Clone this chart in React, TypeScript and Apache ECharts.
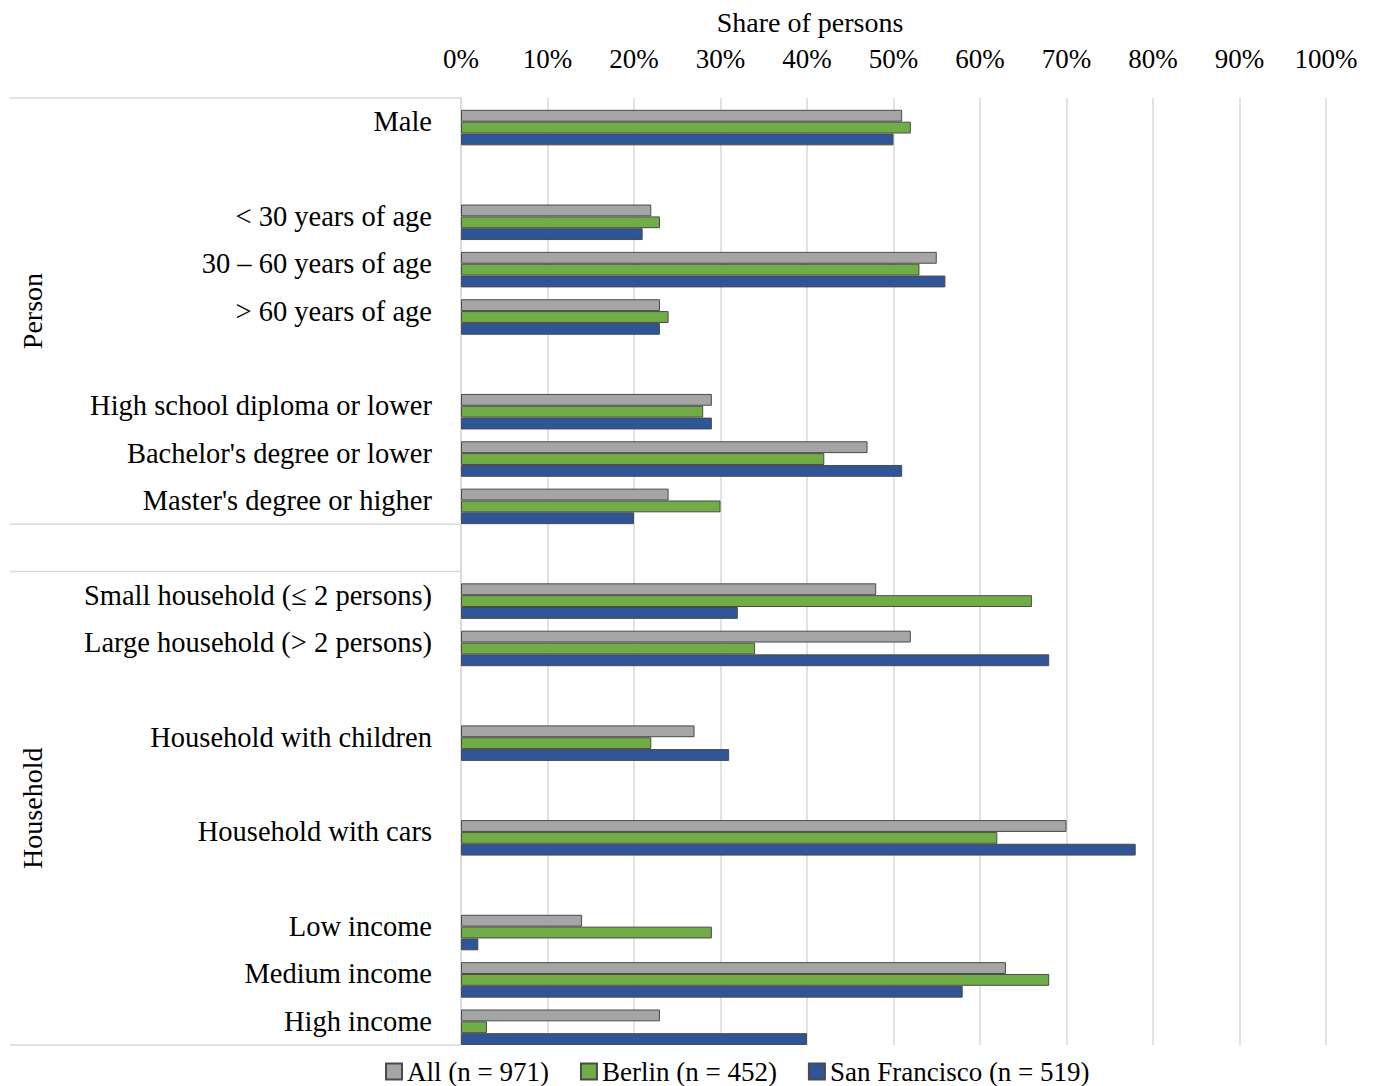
import React, { useEffect, useRef } from "react";
import * as echarts from "echarts";

// ---------- data ----------
const categories: string[] = [
  "Male",
  "",
  "< 30 years of age",
  "30 – 60 years of age",
  "> 60 years of age",
  "",
  "High school diploma or lower",
  "Bachelor's degree or lower",
  "Master's degree or higher",
  "",
  "Small household (≤ 2 persons)",
  "Large household (> 2 persons)",
  "",
  "Household with children",
  "",
  "Household with cars",
  "",
  "Low income",
  "Medium income",
  "High income",
];
const allValues = [51, null, 22, 55, 23, null, 29, 47, 24, null, 48, 52, null, 27, null, 70, null, 14, 63, 23];
const berlinValues = [52, null, 23, 53, 24, null, 28, 42, 30, null, 66, 34, null, 22, null, 62, null, 29, 68, 3];
const sfValues = [50, null, 21, 56, 23, null, 29, 51, 20, null, 32, 68, null, 31, null, 78, null, 2, 58, 40];
const seriesNames = ["All (n = 971)", "Berlin (n = 452)", "San Francisco (n = 519)"];
const seriesColors = ["#A5A5A5", "#70AD47", "#2F5597"];
const groups = [
  { name: "Person", first: 0, last: 8 },
  { name: "Household", first: 10, last: 19 },
];
const axisTitle = "Share of persons";
const xMin = 0;
const xMax = 100;
const xInterval = 10;

// ---------- layout ----------
const W = 1374;
const H = 1086;
const FONT = "'Liberation Serif', 'Times New Roman', serif";
const G = { left: 461, right: 48, top: 98, bottom: 41 };
const LINE = "#D9D9D9";

export default function App() {
  const ref = useRef<HTMLDivElement>(null);

  useEffect(() => {
    if (!ref.current) return;
    const chart = echarts.init(ref.current, undefined, { renderer: "svg" });
    const plotH = H - G.top - G.bottom;
    const band = plotH / categories.length;
    const shift = band / 8;

    const valuesList = [allValues, berlinValues, sfValues];

    const graphics: any[] = [];
    groups.forEach((g) => {
      const y0 = G.top + g.first * band;
      const y1 = G.top + (g.last + 1) * band;
      graphics.push({
        type: "line",
        shape: { x1: 10, y1: y0, x2: G.left, y2: y0 },
        style: { stroke: LINE, lineWidth: 1.5 },
        silent: true,
      });
      graphics.push({
        type: "line",
        shape: { x1: 10, y1: y1, x2: G.left, y2: y1 },
        style: { stroke: LINE, lineWidth: 1.5 },
        silent: true,
      });
      graphics.push({
        type: "text",
        x: 32,
        y: (y0 + y1) / 2,
        rotation: Math.PI / 2,
        style: {
          text: g.name,
          font: `28px ${FONT}`,
          fill: "#000",
          align: "center",
          verticalAlign: "middle",
        },
        silent: true,
      });
    });
    graphics.push({
      type: "text",
      x: 810,
      y: 22,
      style: {
        text: axisTitle,
        font: `28px ${FONT}`,
        fill: "#000",
        align: "center",
        verticalAlign: "middle",
      },
      silent: true,
    });

    chart.setOption({
      animation: false,
      grid: [
        { left: G.left, right: G.right, top: G.top, bottom: G.bottom },
        { left: G.left, right: G.right, top: G.top + shift, bottom: G.bottom - shift },
      ],
      xAxis: [
        {
          type: "value",
          gridIndex: 0,
          position: "top",
          min: xMin,
          max: xMax,
          interval: xInterval,
          axisLine: { show: false },
          axisTick: { show: false },
          axisLabel: {
            formatter: "{value}%",
            fontFamily: FONT,
            fontSize: 27,
            color: "#000",
            margin: 26,
          },
          splitLine: { show: true, lineStyle: { color: LINE, width: 1.5 } },
        },
        {
          type: "value",
          gridIndex: 1,
          min: xMin,
          max: xMax,
          show: false,
          splitLine: { show: false },
        },
      ],
      yAxis: [
        {
          type: "category",
          gridIndex: 0,
          data: categories,
          inverse: true,
          axisLine: { show: true, lineStyle: { color: LINE, width: 1.5 } },
          axisTick: { show: false },
          axisLabel: {
            fontFamily: FONT,
            fontSize: 28.5,
            color: "#000",
            margin: 29,
            interval: 0,
          },
          splitLine: { show: false },
        },
        {
          type: "category",
          gridIndex: 1,
          data: categories,
          inverse: true,
          show: false,
        },
      ],
      legend: {
        data: seriesNames,
        left: 385,
        top: 1058,
        padding: 0,
        itemWidth: 16,
        itemHeight: 16,
        itemGap: 31,
        icon: "rect",
        textStyle: { fontFamily: FONT, fontSize: 27, color: "#000" },
      },
      graphic: graphics,
      series: seriesNames.map((name, i) => ({
        name,
        type: "bar",
        xAxisIndex: 1,
        yAxisIndex: 1,
        data: valuesList[i],
        barGap: "0%",
        barCategoryGap: "25%",
        itemStyle: { color: seriesColors[i], borderColor: "#4a4a4a", borderWidth: 1 },
        emphasis: { disabled: true },
      })),
    });

    return () => chart.dispose();
  }, []);

  return (
    <div
      ref={ref}
      style={{ position: "absolute", left: 0, top: 0, width: W, height: H, background: "#fff" }}
    />
  );
}
